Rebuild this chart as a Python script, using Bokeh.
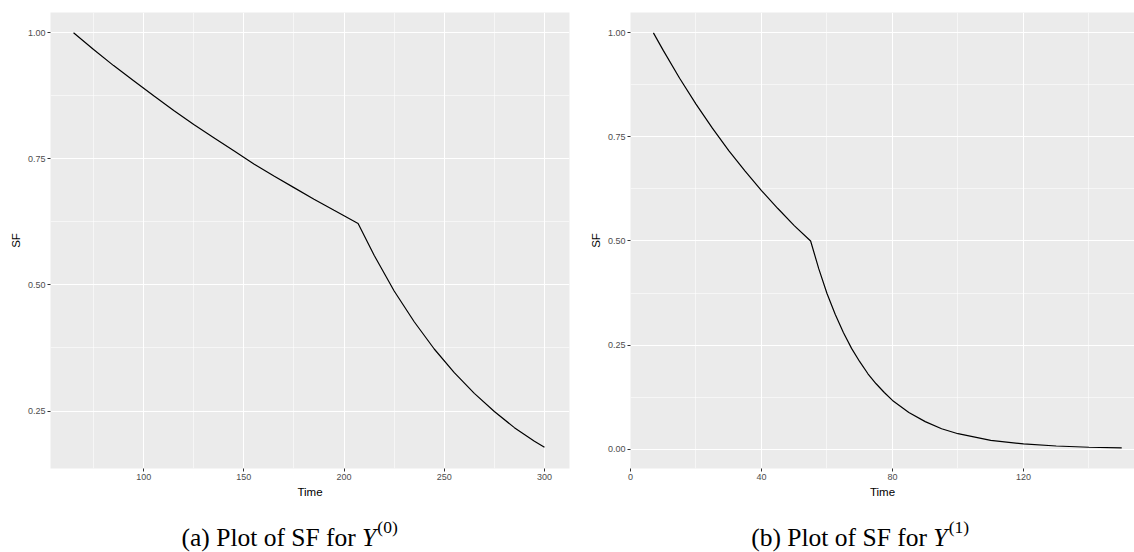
from bokeh.plotting import figure
from bokeh.models import Range1d, FixedTicker, NumeralTickFormatter
from bokeh.layouts import row, column
from bokeh.embed import file_html
from bokeh.resources import INLINE
from bokeh.core.properties import value

# ---- data ----
time_a = [65, 75, 85, 95, 105, 115, 125, 135, 145, 155, 165, 175, 185, 195, 207,
          215, 225, 235, 245, 255, 265, 275, 285, 295, 300]
sf_a = [1.000, 0.967, 0.935, 0.905, 0.875, 0.846, 0.818, 0.792, 0.766, 0.740, 0.716, 0.693,
        0.670, 0.648, 0.622,
        0.559, 0.488, 0.427, 0.373, 0.326, 0.285, 0.249, 0.217, 0.190, 0.178]

time_b = [7, 10, 15, 20, 25, 30, 35, 40, 45, 50, 55,
          57.5, 60, 62.5, 65, 67.5, 70, 72.5, 75, 77.5, 80, 85, 90, 95, 100, 110, 120, 130, 140, 150]
sf_b = [1.000, 0.958, 0.891, 0.829, 0.771, 0.717, 0.668, 0.621, 0.578, 0.537, 0.500,
        0.433, 0.374, 0.324, 0.280, 0.242, 0.210, 0.181, 0.157, 0.136, 0.117, 0.088, 0.066,
        0.049, 0.037, 0.021, 0.0125, 0.0075, 0.0045, 0.003]

xticks_a = [100, 150, 200, 250, 300]
xminor_a = [75, 125, 175, 225, 275]
yticks_a = [0.25, 0.50, 0.75, 1.00]
yminor_a = [0.375, 0.625, 0.875]

xticks_b = [0, 40, 80, 120]
xminor_b = [20, 60, 100, 140]
yticks_b = [0.00, 0.25, 0.50, 0.75, 1.00]
yminor_b = [0.125, 0.375, 0.625, 0.875]

x_label = "Time"
y_label = "SF"
caption_a = ["(a) Plot of SF for", "Y", "(0)"]
caption_b = ["(b) Plot of SF for", "Y", "(1)"]

FONT = "Liberation Sans"
SERIF = "Liberation Serif"


def panel(w, h, xr, yr, xt, xm, yt, ym, xs, ys, left, right, xfmt):
    p = figure(width=w, height=h, x_range=Range1d(*xr), y_range=Range1d(*yr),
               output_backend="svg", toolbar_location=None,
               min_border_left=left, min_border_right=right,
               min_border_top=12, min_border_bottom=h - 468)
    p.background_fill_color = "#EBEBEB"
    p.border_fill_color = "white"
    p.outline_line_color = None
    p.xaxis.ticker = FixedTicker(ticks=xt, minor_ticks=xm)
    p.yaxis.ticker = FixedTicker(ticks=yt, minor_ticks=ym)
    p.xaxis.formatter = NumeralTickFormatter(format=xfmt)
    p.yaxis.formatter = NumeralTickFormatter(format="0.00")
    p.grid.grid_line_color = "white"
    p.grid.grid_line_width = 1.1
    p.grid.minor_grid_line_color = "white"
    p.grid.minor_grid_line_width = 0.55
    for ax in (p.xaxis[0], p.yaxis[0]):
        ax.axis_line_color = None
        ax.major_tick_line_color = "#333333"
        ax.major_tick_out = 3
        ax.major_tick_in = 0
        ax.minor_tick_out = 0
        ax.minor_tick_in = 0
        ax.major_label_text_font = FONT
        ax.major_label_text_font_size = "9px"
        ax.major_label_text_color = "#4D4D4D"
        ax.major_label_standoff = 2
        ax.axis_label_text_font = FONT
        ax.axis_label_text_font_size = "11.5px"
        ax.axis_label_text_font_style = "normal"
        ax.axis_label_text_color = "black"
        ax.axis_label_standoff = 3
    p.xaxis.axis_label = x_label
    p.yaxis.axis_label = y_label
    p.line(xs, ys, line_color="black", line_width=1.2)
    return p


def caption(w, h, parts, anchor, base):
    c = figure(width=w, height=h, x_range=Range1d(0, w), y_range=Range1d(0, h),
               output_backend="svg", toolbar_location=None,
               min_border_left=0, min_border_right=0, min_border_top=0, min_border_bottom=0)
    c.axis.visible = False
    c.grid.visible = False
    c.outline_line_color = None
    c.background_fill_color = "white"
    c.text(x=[anchor], y=[base], text=[parts[0]], text_align="right", text_baseline="alphabetic",
           text_font=value(SERIF), text_font_size="25.5px", text_color="black")
    c.text(x=[anchor + 7], y=[base], text=[parts[1]], text_align="left", text_baseline="alphabetic",
           text_font=value(SERIF), text_font_style="italic", text_font_size="25.5px", text_color="black")
    c.text(x=[anchor + 24], y=[base + 11], text=[parts[2]], text_align="left", text_baseline="alphabetic",
           text_font=value(SERIF), text_font_size="17.5px", text_color="black")
    return c


W_A, W_B, H_P, H_C = 578, 556, 500, 52

pa = panel(W_A, H_P, (53.5, 312.5), (0.136, 1.0403), xticks_a, xminor_a, yticks_a, yminor_a,
           time_a, sf_a, 50, 9, "0")
pb = panel(W_B, H_P, (0, 153.9), (-0.0466, 1.049), xticks_b, xminor_b, yticks_b, yminor_b,
           time_b, sf_b, 52, 0, "0")

ca = caption(W_A, H_C, caption_a, 340, 15)
cb = caption(W_B, H_C, caption_b, 905 - W_A, 15)

layout = row(column(pa, ca), column(pb, cb))
open("out.html", "w").write(file_html(layout, INLINE))
